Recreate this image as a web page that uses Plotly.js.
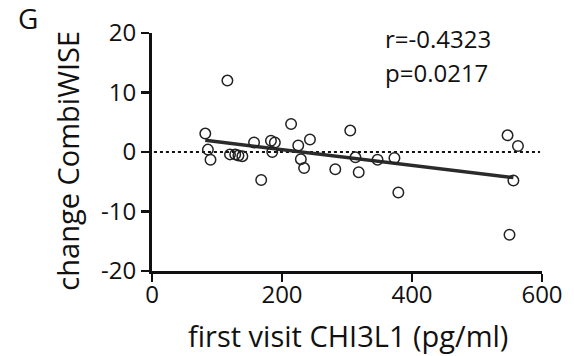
<!DOCTYPE html>
<html>
<head>
<meta charset="utf-8">
<script src="https://cdn.plot.ly/plotly-3.0.1.min.js"></script>
<style>html,body{margin:0;padding:0;background:#fff;}#chart{width:574px;height:356px;}</style>
</head>
<body>
<div id="chart"></div>
<script>
// first visit CHI3L1 (pg/ml)
const chi3l1 = [82, 86, 90, 116, 120, 128, 133, 139, 157, 168, 183, 189, 185, 214,
                225, 243, 229, 234, 282, 305, 313, 318, 347, 373, 379, 547, 563, 556, 550];
// change CombiWISE
const changeCombiWISE = [3.1, 0.4, -1.3, 12.0, -0.4, -0.4, -0.6, -0.7, 1.6, -4.7, 1.9, 1.6, 0.0, 4.7,
                         1.1, 2.1, -1.2, -2.7, -2.9, 3.6, -0.9, -3.4, -1.3, -1.0, -6.8, 2.8, 1.0, -4.8, -13.9];
// linear regression line end points
const fitX = [82, 556];
const fitY = [1.97, -4.3];
const refY = 0;
const xTicks = [0, 200, 400, 600];
const yTicks = [-20, -10, 0, 10, 20];
const stats = ["r=-0.4323", "p=0.0217"];
const panelLabel = "G";

const FONT = "Open Sans, sans-serif";

const traces = [
  {
    x: fitX, y: fitY, mode: "lines", type: "scatter",
    line: {color: "#2b2b2b", width: 3.5}, hoverinfo: "skip"
  },
  {
    x: chi3l1, y: changeCombiWISE, mode: "markers", type: "scatter",
    marker: {symbol: "circle-open", size: 10.5, color: "#222", line: {width: 1.5, color: "#222"}}
  }
];

const layout = {
  width: 574, height: 356,
  margin: {l: 152, r: 32, t: 33, b: 85},
  paper_bgcolor: "#fff", plot_bgcolor: "#fff",
  showlegend: false,
  font: {family: FONT, color: "#111"},
  xaxis: {
    range: [0, 600], tickvals: xTicks, ticktext: xTicks.map(String),
    showgrid: false, zeroline: false,
    showline: true, linewidth: 3, linecolor: "#111",
    ticks: "outside", ticklen: 8, tickwidth: 2.5, tickcolor: "#111",
    ticklabelstandoff: -8,
    tickfont: {size: 24, family: FONT, color: "#111"}
  },
  yaxis: {
    range: [-20, 20], tickvals: yTicks, ticktext: yTicks.map(String),
    showgrid: false, zeroline: false,
    showline: true, linewidth: 3, linecolor: "#111",
    ticks: "outside", ticklen: 8, tickwidth: 2.5, tickcolor: "#111",
    tickfont: {size: 24, family: FONT, color: "#111"}
  },
  shapes: [
    {type: "line", xref: "paper", x0: 0.005, x1: 0.995, yref: "y", y0: refY, y1: refY,
     line: {color: "#111", width: 2, dash: "dot"}, layer: "below"}
  ],
  annotations: [
    {text: "first visit CHI3L1 (pg/ml)", xref: "paper", yref: "paper", x: 0.503, y: -0.27,
     showarrow: false, xanchor: "center", yanchor: "middle",
     font: {size: 29, family: FONT, color: "#111"}},
    {text: "change CombiWISE", xref: "paper", yref: "paper", x: -0.219, y: 0.462,
     textangle: -90, showarrow: false, xanchor: "center", yanchor: "middle",
     font: {size: 29, family: FONT, color: "#111"}},
    {text: panelLabel, xref: "paper", yref: "paper", x: -0.319, y: 1.065,
     showarrow: false, xanchor: "center", yanchor: "middle",
     font: {size: 28, family: FONT, color: "#111"}},
    {text: stats[0], xref: "paper", yref: "paper", x: 0.592, y: 0.975,
     showarrow: false, xanchor: "left", yanchor: "middle",
     font: {size: 24, family: FONT, color: "#111"}},
    {text: stats[1], xref: "paper", yref: "paper", x: 0.592, y: 0.832,
     showarrow: false, xanchor: "left", yanchor: "middle",
     font: {size: 24, family: FONT, color: "#111"}}
  ]
};

Plotly.newPlot("chart", traces, layout, {staticPlot: true, displayModeBar: false});
</script>
</body>
</html>
